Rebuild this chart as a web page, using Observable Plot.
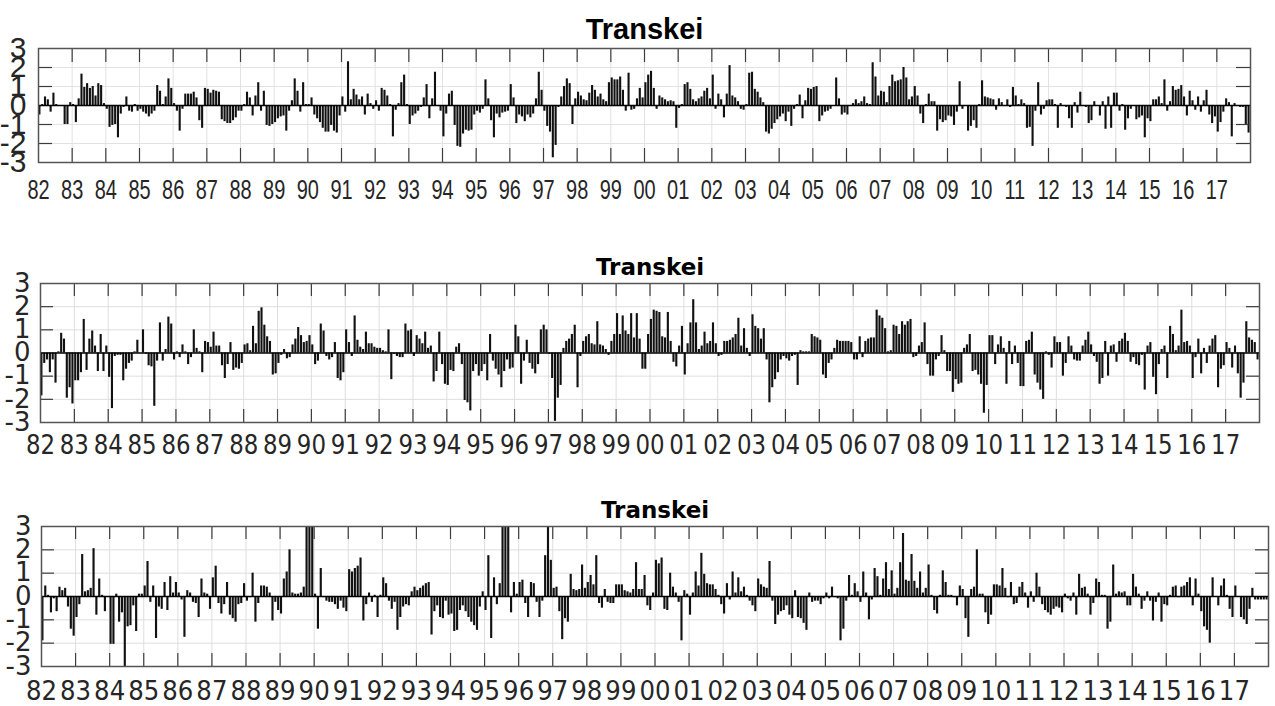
<!DOCTYPE html>
<html><head><meta charset="utf-8">
<script src="https://cdn.jsdelivr.net/npm/d3@7"></script>
<script src="https://cdn.jsdelivr.net/npm/@observablehq/plot@0.6"></script>
<style>
body{margin:0;background:#fff;}
#c{position:relative;width:1275px;height:706px;overflow:hidden;background:#fff;}
.pn{position:absolute;left:0;}
</style></head><body><div id="c"></div>
<script>
// ---- data ----
const yearTicks = d3.range(1982, 2018);           // tick positions (year starts)
const tickLabel = y => String(y % 100).padStart(2, "0");
const yTicks = [-3, -2, -1, 0, 1, 2, 3];
const innerYTicks = [-2, -1, 1, 2];
const panelTitles = ["Transkei", "Transkei", "Transkei"];

// monthly anomalies, Jan 1982 .. Dec 2017 (one row per year)
const seriesTop = [
 -0.5,0.05,0.45,0.3,-0.35,0.65,0.05,0.0,-0.05,-1.0,-1.0,0.15,
 0.05,-0.9,0.35,1.65,0.95,1.15,0.9,1.0,0.5,1.15,1.05,0.1,
 -0.2,-1.15,-1.05,-1.0,-1.7,-0.45,-0.1,0.45,-0.3,-0.35,0.05,-0.3,
 -0.2,-0.35,-0.45,-0.6,-0.45,-0.3,1.05,0.75,0.05,0.45,1.4,0.9,
 0.1,-0.3,-1.35,-0.2,0.6,0.6,0.6,0.7,0.4,-0.8,-1.2,0.9,
 0.85,0.65,0.8,0.75,0.7,-0.75,-0.85,-0.95,-0.95,-0.8,-0.65,-0.3,
 -0.3,0.05,0.7,0.4,-0.55,0.5,1.2,-0.3,0.75,-1.05,-1.1,-1.0,
 -0.9,-0.7,-0.6,-0.55,-1.35,-0.3,0.25,1.4,0.75,-0.35,1.2,0.05,
 0.05,0.4,-0.5,-0.7,-0.9,-1.2,-1.4,-1.4,-1.05,-1.35,-1.45,-0.55,
 0.45,-0.35,2.3,0.3,0.85,0.55,0.3,0.45,-0.5,0.6,0.1,-0.2,
 0.25,-0.3,0.9,0.8,0.5,0.05,-1.65,-0.25,0.1,1.2,1.6,0.05,
 -1.0,-0.55,-0.45,-0.3,-0.1,0.4,1.1,-0.7,0.35,1.75,0.0,-0.3,
 -1.65,-0.45,0.6,0.75,-1.05,-2.15,-2.2,-1.5,-1.3,-1.35,-1.3,-0.5,
 -0.3,-0.4,-0.2,1.35,0.35,-0.8,-1.7,-0.45,-0.65,-0.4,-0.35,-0.3,
 1.1,0.4,-0.95,-0.5,-0.6,-0.85,-0.5,-0.65,-0.45,0.35,1.75,0.8,
 -0.3,-1.1,-1.4,-2.75,-2.1,-0.1,0.45,1.0,1.4,1.15,-1.0,0.35,
 0.7,0.5,0.3,0.25,0.65,1.05,0.8,0.45,0.6,0.3,0.2,1.2,
 1.45,1.35,1.35,1.5,0.8,-0.3,1.7,-0.25,-0.2,0.35,0.9,0.4,
 1.2,1.6,1.8,0.9,-0.2,0.5,0.4,0.3,0.2,0.25,0.2,-1.2,
 -0.15,0.05,1.1,1.2,0.85,0.3,0.2,0.35,0.45,0.75,0.9,0.35,
 1.6,-0.2,0.6,0.3,-0.65,0.6,2.1,0.5,0.4,0.2,-0.2,-0.25,
 0.05,1.7,1.75,0.85,0.7,0.4,0.15,-1.4,-1.5,-1.25,-0.95,-0.75,
 -0.6,-0.45,-0.85,-0.35,-1.1,-0.2,0.05,0.55,-0.7,0.25,0.9,0.85,
 0.95,1.0,-0.85,-0.55,-0.35,-0.3,-0.2,-0.05,1.45,0.35,-0.5,-0.4,
 -0.5,-0.05,0.1,0.3,0.1,0.2,0.45,0.1,0.05,2.25,1.5,0.5,
 0.75,0.7,0.15,1.0,1.6,1.25,1.3,1.35,2.0,1.45,0.3,0.45,
 1.0,0.5,-0.45,-0.95,0.05,0.6,0.2,0.2,-1.35,-0.75,-0.9,-0.8,
 -0.55,-0.6,-1.05,-0.35,1.25,-0.2,-0.05,-1.35,-1.1,-0.8,-1.2,0.05,
 1.3,0.45,0.4,0.35,0.3,-0.25,0.35,0.15,-0.05,0.3,-0.1,0.95,
 0.5,0.05,0.3,0.1,-1.2,-1.15,-2.15,-0.3,1.2,-0.5,-0.2,0.25,
 0.3,0.3,0.05,-1.2,0.1,0.0,-0.1,-0.7,-1.2,0.15,-0.4,0.7,
 -0.05,-0.1,-0.95,-0.8,0.2,-0.05,-0.55,0.2,-1.25,0.45,-1.2,0.65,
 0.65,-0.3,0.05,-1.3,-0.7,-0.2,-0.05,-0.75,-0.65,-0.55,-1.7,-0.7,
 -0.85,0.3,0.3,0.45,0.1,1.35,-0.3,0.2,1.0,0.8,0.85,1.05,
 0.45,-0.55,0.75,0.25,-0.25,0.45,-0.35,0.25,0.8,-0.5,-0.95,-0.6,
 -1.4,-0.9,-0.35,0.35,0.15,-1.65,0.1,0.0,-0.1,-0.1,-1.0,-1.45
];
const seriesMiddle = [
 -1.85,-0.45,-0.3,-0.85,-0.3,-1.3,0.05,0.85,0.6,-1.95,-1.5,-2.2,
 -1.2,-1.2,-0.85,1.45,-0.75,0.6,0.95,0.3,-0.8,0.8,-0.8,0.3,
 -1.05,-2.4,-0.15,-0.1,-0.1,-1.2,-0.7,-0.45,-0.35,0.05,0.55,0.0,
 1.0,-0.05,-0.55,-0.6,-2.3,-0.35,1.3,-0.35,0.15,1.55,1.25,-0.3,
 0.05,-0.2,0.35,0.05,-0.5,-0.2,1.0,0.2,0.05,-0.85,0.5,0.45,
 0.25,0.9,0.3,0.3,-0.55,-1.1,-0.5,0.45,-0.75,-0.65,-0.7,-0.45,
 0.35,0.4,0.1,1.15,0.4,1.8,1.95,1.2,0.7,0.5,-0.95,-0.9,
 -0.45,-0.1,0.15,-0.25,-0.2,0.35,0.6,1.1,0.75,0.45,0.5,0.75,
 0.35,-0.5,-0.35,1.25,0.95,-0.15,-0.3,-0.2,0.45,-1.1,-1.2,-0.85,
 1.0,0.45,-0.15,1.6,0.55,0.25,0.15,0.9,0.4,0.4,0.25,0.2,
 0.2,0.1,0.05,1.0,-1.15,-0.05,-0.15,-0.2,-0.2,1.25,0.95,1.0,
 -0.15,0.75,0.6,0.4,0.9,0.2,0.3,-1.25,-0.8,0.9,-0.5,-1.35,
 -1.4,-0.75,-0.8,0.25,0.4,-0.5,-2.05,-2.15,-2.5,-0.8,-0.5,-1.0,
 -0.8,-0.5,-1.2,0.8,-0.35,-0.7,-0.95,-1.5,-0.8,-0.3,-0.7,-0.65,
 1.2,0.7,-1.35,-0.35,0.55,-0.45,-0.7,-0.9,-0.5,1.0,1.2,1.0,
 -0.05,-1.1,-2.95,-1.95,-1.4,0.2,0.5,0.6,0.8,1.2,-1.5,-0.15,
 0.5,0.7,0.8,0.4,0.35,1.35,0.35,0.3,0.15,-0.1,0.5,0.8,
 1.7,0.8,1.6,0.95,0.8,1.7,0.65,1.7,0.6,-0.7,-0.7,0.8,
 1.45,1.85,1.8,1.75,0.7,0.65,1.75,0.5,-0.4,-0.6,0.3,1.15,
 -0.95,0.4,1.3,2.3,1.3,0.15,0.3,0.9,0.4,0.5,1.3,0.4,
 -0.15,-0.1,0.5,0.5,0.55,0.65,0.8,1.5,0.3,1.05,0.2,-0.15,
 1.65,1.15,1.05,0.6,1.05,-0.3,-2.15,-1.5,-1.15,-0.85,-0.3,-0.15,
 -0.25,-0.35,-0.15,-0.1,-1.4,0.1,0.05,0.05,0.05,0.8,0.7,0.65,
 0.55,-0.95,-1.1,-0.45,-0.3,0.2,0.55,0.5,0.5,0.5,0.5,0.45,
 -0.3,-0.3,0.7,-0.2,0.5,0.6,0.65,0.65,1.85,1.6,1.5,1.05,
 0.05,0.1,1.2,1.15,0.8,1.35,1.2,1.35,1.45,-0.2,-0.15,0.3,
 0.45,1.3,-0.5,-1.0,-1.0,-0.3,-0.15,0.75,0.1,-0.8,-0.8,-1.7,
 -1.15,-1.35,-1.3,0.2,0.35,0.8,-0.8,-0.75,-0.95,-1.35,-2.6,-1.4,
 0.75,0.75,-0.5,0.35,0.7,0.2,-1.35,0.5,-0.5,0.3,-0.45,-1.45,
 -1.45,0.5,0.55,0.9,-0.95,-1.3,-1.6,-2.0,0.05,-0.1,-0.65,0.7,
 0.45,0.45,-1.0,-0.45,0.7,0.3,-0.3,-0.35,-0.35,0.3,0.55,0.9,
 0.35,-0.15,-0.4,-1.35,-1.1,0.5,-1.0,0.3,0.35,-0.4,0.5,0.6,
 0.85,0.5,-0.4,-0.2,-0.5,-0.55,-0.1,-1.6,0.3,0.45,-1.05,-1.8,
 -0.5,0.15,0.3,-1.1,1.15,0.8,0.1,0.3,1.85,0.45,0.5,0.3,
 -1.1,-0.2,0.6,-0.9,0.2,-0.45,0.3,0.6,0.75,-1.5,-0.7,-0.55,
 0.45,0.2,-0.65,0.3,-0.9,-1.95,-1.3,1.35,0.65,0.55,0.45,-0.3
];
const seriesBottom = [
 -1.9,0.45,0.05,-0.7,-0.1,-0.65,0.4,0.25,0.35,-0.45,-1.4,-1.7,
 -0.9,-0.35,1.8,0.2,0.25,0.35,2.05,-0.8,0.75,0.05,-0.65,0.0,
 -2.05,-2.05,0.1,-1.1,-0.7,-3.1,-1.3,-1.25,-0.4,-1.5,0.1,0.1,
 0.45,1.5,-0.25,0.45,-1.8,-0.45,-0.55,0.6,-0.6,0.85,0.15,0.6,
 0.15,-0.15,-1.75,0.25,0.15,-0.25,-0.3,-0.9,0.75,0.15,0.1,-0.55,
 0.8,1.3,-0.3,-0.75,-0.35,0.6,-0.8,-0.95,-1.1,-0.35,-0.3,0.55,
 -0.2,-0.05,1.0,-1.1,-0.3,0.45,0.45,0.4,0.15,-1.05,-0.25,-0.6,
 -0.75,0.75,1.05,2.0,0.15,0.1,0.1,0.15,0.4,3.5,3.5,3.5,
 0.1,-1.4,1.2,-0.05,-0.2,-0.25,-0.25,-0.35,-0.55,-0.2,-0.5,-0.65,
 1.15,1.05,1.2,1.3,1.65,-1.05,-0.35,0.15,-0.25,0.05,-0.9,0.05,
 0.8,0.55,-0.2,-0.55,-0.25,-1.45,-0.9,-0.45,-0.35,-0.4,0.2,0.4,
 0.25,0.35,0.45,0.55,0.6,-1.65,-0.65,-0.4,-0.9,-0.95,-0.2,-0.8,
 -0.75,-1.5,-1.45,-0.6,-0.4,-0.65,-0.9,-1.1,-1.25,-1.45,-0.45,0.2,
 -0.6,1.75,-1.8,0.8,-0.35,0.55,3.5,3.5,3.5,-0.7,0.6,0.1,
 0.6,0.7,-0.3,-0.9,0.6,0.55,-0.25,-0.9,-0.2,1.75,3.5,1.55,
 0.35,0.4,-0.65,-1.85,-0.95,-1.1,0.95,0.3,0.25,0.3,1.35,0.35,
 0.6,0.9,0.5,1.75,-0.3,-0.5,0.3,-0.25,-0.3,-0.3,0.5,0.5,
 0.5,0.25,0.2,0.15,0.3,1.45,0.3,0.3,0.9,-0.4,-0.6,0.15,
 1.55,1.4,1.65,-0.55,-0.6,1.0,0.4,0.15,-0.25,-1.9,0.25,0.1,
 -0.8,0.15,1.05,0.45,1.85,0.95,0.55,0.5,0.5,0.3,0.05,-0.35,
 -0.75,0.55,-0.15,1.05,0.15,0.8,0.2,0.4,0.05,-0.2,-0.4,-0.65,
 0.75,0.5,0.4,0.35,1.5,-0.2,-1.2,-0.8,-0.65,-0.6,-0.4,-0.8,
 -0.95,0.25,-0.9,-0.95,-1.15,-1.45,0.15,-0.25,-0.2,-0.2,-0.35,-0.1,
 0.15,-0.1,0.4,-0.05,-0.1,-1.9,-1.4,-0.2,0.9,0.05,0.55,0.2,
 -0.25,1.05,0.15,-1.0,-0.15,1.2,0.85,0.05,0.75,1.45,0.3,1.1,
 0.1,0.35,1.45,2.7,0.7,0.65,1.8,0.65,0.35,1.05,0.15,0.35,
 1.35,0.05,-0.6,-0.75,0.05,1.1,0.6,0.05,0.05,-0.05,-0.4,0.45,
 0.3,-0.95,-1.75,0.3,0.4,2.0,0.1,0.1,-0.7,-1.2,-0.8,0.5,
 0.5,0.45,1.2,0.35,-0.05,0.6,-0.35,-0.3,0.4,0.6,0.15,-0.5,
 0.2,-0.25,1.0,0.4,-0.35,-0.6,-0.7,-0.8,-0.55,-0.45,-0.5,-0.7,
 0.1,-0.1,-0.2,0.15,-0.8,0.95,0.35,0.4,0.1,-0.8,-0.3,0.75,
 0.6,0.05,0.05,-1.4,-1.1,1.35,0.1,0.2,0.15,0.2,-0.4,-0.4,
 0.95,0.4,0.1,-0.55,-0.2,0.2,-0.2,-1.05,-0.25,0.15,-1.1,-0.35,
 -0.4,0.05,0.4,0.45,-0.05,0.4,0.45,0.6,0.8,-0.4,0.75,0.1,
 -0.65,-1.3,-1.45,-2.0,0.8,0.0,-0.4,0.45,0.75,0.05,-0.55,-0.9,
 0.45,0.0,-0.9,-1.0,-1.2,-0.55,0.35,-0.15,-0.15,-0.15,-0.15,-0.15
];

// ---- panel styling (positions / fonts only) ----
const panels = [
  {values: seriesTop, top: 8, mt: 40, ih: 114, mb: 45, ml: 38, mr: 25,
   titleFont: "'Liberation Sans Narrow', 'Liberation Sans', sans-serif", titleSize: 29, titleDy: -10,
   yFont: "'Liberation Sans', Arial, sans-serif", ySize: 30, yPad: 12,
   xFont: "'Liberation Sans', Arial, sans-serif", xSize: 27, xScale: 0.74, xPad: 17, tick: 14, grid: "#e2e2e2"},
  {values: seriesMiddle, top: 243, mt: 40, ih: 139, mb: 45, ml: 40, mr: 16,
   titleFont: "'DejaVu Sans', sans-serif", titleSize: 23, titleDy: -9,
   yFont: "'DejaVu Sans', sans-serif", ySize: 26, yPad: 10,
   xFont: "'DejaVu Sans', sans-serif", xSize: 26, xScale: 0.88, xPad: 13, tick: 13, grid: "#dedede"},
  {values: seriesBottom, top: 486, mt: 40, ih: 140, mb: 40, ml: 41, mr: 7,
   titleFont: "'DejaVu Sans', sans-serif", titleSize: 23, titleDy: -9,
   yFont: "'DejaVu Sans', sans-serif", ySize: 26, yPad: 10,
   xFont: "'DejaVu Sans', sans-serif", xSize: 26, xScale: 0.94, xPad: 15, tick: 13, grid: "#dedede"}
];

const container = document.getElementById("c");
panels.forEach((p, k) => {
  const W = 1275;
  const iw = W - p.ml - p.mr;
  const data = p.values.map((v, i) => ({t: 1982 + i / 12, v}));
  const svg = Plot.plot({
    width: W,
    height: p.mt + p.ih + p.mb,
    marginTop: p.mt, marginBottom: p.mb, marginLeft: p.ml, marginRight: p.mr,
    style: {background: "transparent", overflow: "visible", color: "#262626"},
    x: {domain: [1982, 2018], label: null},
    y: {domain: [-3, 3], label: null},
    marks: [
      Plot.ruleX(d3.range(1983, 2018), {stroke: p.grid, strokeWidth: 1}),
      Plot.ruleY(innerYTicks, {stroke: p.grid, strokeWidth: 1}),
      Plot.rect(data, {x1: "t", x2: d => d.t + 1 / 12, y1: 0, y2: "v",
        fill: "#111", insetLeft: 0.35, insetRight: 0.35, clip: true}),
      Plot.ruleY([0], {stroke: "#000", strokeWidth: 1.4}),
      Plot.ruleX(d3.range(1983, 2018), {stroke: "#3c3c3c", strokeWidth: 1.2, insetBottom: p.ih - p.tick}),
      Plot.ruleX(d3.range(1983, 2018), {stroke: "#3c3c3c", strokeWidth: 1.2, insetTop: p.ih - p.tick}),
      Plot.ruleY(innerYTicks, {stroke: "#3c3c3c", strokeWidth: 1.2, insetRight: iw - p.tick}),
      Plot.ruleY(innerYTicks, {stroke: "#3c3c3c", strokeWidth: 1.2, insetLeft: iw - p.tick}),
      Plot.frame({stroke: "#555", strokeWidth: 1.5}),
      Plot.axisX({ticks: yearTicks, tickFormat: tickLabel, tickSize: 0, tickPadding: p.xPad,
        fontSize: p.xSize, fontFamily: p.xFont, label: null}),
      Plot.axisY({ticks: yTicks, tickFormat: d => String(d), tickSize: 0, tickPadding: p.yPad,
        fontSize: p.ySize, fontFamily: p.yFont, label: null}),
      Plot.text([panelTitles[k]], {frameAnchor: "top", lineAnchor: "bottom", dy: p.titleDy,
        fontSize: p.titleSize, fontWeight: "bold", fontFamily: p.titleFont, fill: "#000"})
    ]
  });
  if (p.xScale !== 1) {
    svg.querySelectorAll('g[aria-label="x-axis tick label"] text').forEach(t => {
      const tr = t.getAttribute("transform");
      if (tr) t.setAttribute("transform", tr + ` scale(${p.xScale},1)`);
      else {
        const x = +(t.getAttribute("x") || 0), y = +(t.getAttribute("y") || 0);
        t.removeAttribute("x"); t.removeAttribute("y");
        t.setAttribute("transform", `translate(${x},${y}) scale(${p.xScale},1)`);
      }
    });
  }
  const holder = document.createElement("div");
  holder.className = "pn";
  holder.style.top = p.top + "px";
  holder.appendChild(svg);
  container.appendChild(holder);
});
</script>
</body></html>
